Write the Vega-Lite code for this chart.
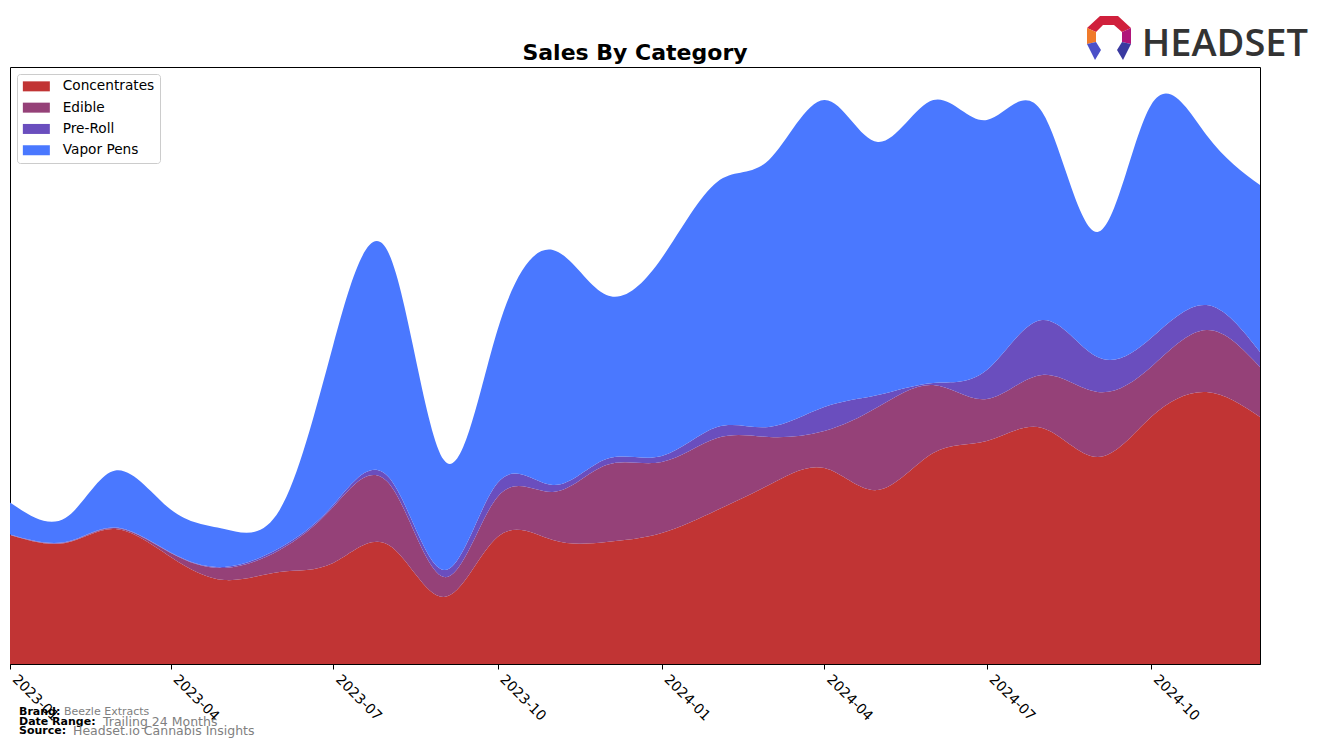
{
  "$schema": "https://vega.github.io/schema/vega-lite/v6.json",
  "width": 1250,
  "height": 597,
  "autosize": {"type": "none"},
  "padding": {"left": 10, "top": 67, "right": 64, "bottom": 84},
  "background": "white",
  "config": {
    "font": "DejaVu Sans",
    "view": {"stroke": "black", "strokeWidth": 1}
  },
  "title": {
    "text": "Sales By Category",
    "fontSize": 22,
    "fontWeight": "bold",
    "color": "black",
    "anchor": "middle",
    "offset": 8,
    "dy": 57,
    "font": "DejaVu Sans"
  },
  "layer": [
    {
      "data": {
        "values": [
          {"month": "2023-01-01", "category": "Concentrates", "sales": 129},
          {"month": "2023-02-01", "category": "Concentrates", "sales": 121},
          {"month": "2023-03-01", "category": "Concentrates", "sales": 135},
          {"month": "2023-04-01", "category": "Concentrates", "sales": 107},
          {"month": "2023-05-01", "category": "Concentrates", "sales": 84},
          {"month": "2023-06-01", "category": "Concentrates", "sales": 92},
          {"month": "2023-07-01", "category": "Concentrates", "sales": 101},
          {"month": "2023-08-01", "category": "Concentrates", "sales": 119},
          {"month": "2023-09-01", "category": "Concentrates", "sales": 67},
          {"month": "2023-10-01", "category": "Concentrates", "sales": 127},
          {"month": "2023-11-01", "category": "Concentrates", "sales": 124},
          {"month": "2023-12-01", "category": "Concentrates", "sales": 122},
          {"month": "2024-01-01", "category": "Concentrates", "sales": 131},
          {"month": "2024-02-01", "category": "Concentrates", "sales": 154},
          {"month": "2024-03-01", "category": "Concentrates", "sales": 179},
          {"month": "2024-04-01", "category": "Concentrates", "sales": 196},
          {"month": "2024-05-01", "category": "Concentrates", "sales": 174},
          {"month": "2024-06-01", "category": "Concentrates", "sales": 211},
          {"month": "2024-07-01", "category": "Concentrates", "sales": 223},
          {"month": "2024-08-01", "category": "Concentrates", "sales": 236},
          {"month": "2024-09-01", "category": "Concentrates", "sales": 207},
          {"month": "2024-10-01", "category": "Concentrates", "sales": 247},
          {"month": "2024-11-01", "category": "Concentrates", "sales": 272},
          {"month": "2024-12-01", "category": "Concentrates", "sales": 247},

          {"month": "2023-01-01", "category": "Edible", "sales": 0.3},
          {"month": "2023-02-01", "category": "Edible", "sales": 0.5},
          {"month": "2023-03-01", "category": "Edible", "sales": 1},
          {"month": "2023-04-01", "category": "Edible", "sales": 4},
          {"month": "2023-05-01", "category": "Edible", "sales": 12},
          {"month": "2023-06-01", "category": "Edible", "sales": 22},
          {"month": "2023-07-01", "category": "Edible", "sales": 56},
          {"month": "2023-08-01", "category": "Edible", "sales": 62},
          {"month": "2023-09-01", "category": "Edible", "sales": 20},
          {"month": "2023-10-01", "category": "Edible", "sales": 40},
          {"month": "2023-11-01", "category": "Edible", "sales": 48},
          {"month": "2023-12-01", "category": "Edible", "sales": 77},
          {"month": "2024-01-01", "category": "Edible", "sales": 71},
          {"month": "2024-02-01", "category": "Edible", "sales": 72},
          {"month": "2024-03-01", "category": "Edible", "sales": 48},
          {"month": "2024-04-01", "category": "Edible", "sales": 37},
          {"month": "2024-05-01", "category": "Edible", "sales": 83},
          {"month": "2024-06-01", "category": "Edible", "sales": 68},
          {"month": "2024-07-01", "category": "Edible", "sales": 42},
          {"month": "2024-08-01", "category": "Edible", "sales": 53},
          {"month": "2024-09-01", "category": "Edible", "sales": 65},
          {"month": "2024-10-01", "category": "Edible", "sales": 50},
          {"month": "2024-11-01", "category": "Edible", "sales": 62},
          {"month": "2024-12-01", "category": "Edible", "sales": 50},

          {"month": "2023-01-01", "category": "Pre-Roll", "sales": 0.2},
          {"month": "2023-02-01", "category": "Pre-Roll", "sales": 0.5},
          {"month": "2023-03-01", "category": "Pre-Roll", "sales": 0.5},
          {"month": "2023-04-01", "category": "Pre-Roll", "sales": 0.5},
          {"month": "2023-05-01", "category": "Pre-Roll", "sales": 1},
          {"month": "2023-06-01", "category": "Pre-Roll", "sales": 2},
          {"month": "2023-07-01", "category": "Pre-Roll", "sales": 2},
          {"month": "2023-08-01", "category": "Pre-Roll", "sales": 6},
          {"month": "2023-09-01", "category": "Pre-Roll", "sales": 7},
          {"month": "2023-10-01", "category": "Pre-Roll", "sales": 14},
          {"month": "2023-11-01", "category": "Pre-Roll", "sales": 7},
          {"month": "2023-12-01", "category": "Pre-Roll", "sales": 6},
          {"month": "2024-01-01", "category": "Pre-Roll", "sales": 6},
          {"month": "2024-02-01", "category": "Pre-Roll", "sales": 11},
          {"month": "2024-03-01", "category": "Pre-Roll", "sales": 10},
          {"month": "2024-04-01", "category": "Pre-Roll", "sales": 24},
          {"month": "2024-05-01", "category": "Pre-Roll", "sales": 12},
          {"month": "2024-06-01", "category": "Pre-Roll", "sales": 2},
          {"month": "2024-07-01", "category": "Pre-Roll", "sales": 29},
          {"month": "2024-08-01", "category": "Pre-Roll", "sales": 55},
          {"month": "2024-09-01", "category": "Pre-Roll", "sales": 35},
          {"month": "2024-10-01", "category": "Pre-Roll", "sales": 29},
          {"month": "2024-11-01", "category": "Pre-Roll", "sales": 25},
          {"month": "2024-12-01", "category": "Pre-Roll", "sales": 15},

          {"month": "2023-01-01", "category": "Vapor Pens", "sales": 32},
          {"month": "2023-02-01", "category": "Vapor Pens", "sales": 24},
          {"month": "2023-03-01", "category": "Vapor Pens", "sales": 57},
          {"month": "2023-04-01", "category": "Vapor Pens", "sales": 43},
          {"month": "2023-05-01", "category": "Vapor Pens", "sales": 38},
          {"month": "2023-06-01", "category": "Vapor Pens", "sales": 38},
          {"month": "2023-07-01", "category": "Vapor Pens", "sales": 160},
          {"month": "2023-08-01", "category": "Vapor Pens", "sales": 224},
          {"month": "2023-09-01", "category": "Vapor Pens", "sales": 110},
          {"month": "2023-10-01", "category": "Vapor Pens", "sales": 153},
          {"month": "2023-11-01", "category": "Vapor Pens", "sales": 235},
          {"month": "2023-12-01", "category": "Vapor Pens", "sales": 164},
          {"month": "2024-01-01", "category": "Vapor Pens", "sales": 198},
          {"month": "2024-02-01", "category": "Vapor Pens", "sales": 245},
          {"month": "2024-03-01", "category": "Vapor Pens", "sales": 267},
          {"month": "2024-04-01", "category": "Vapor Pens", "sales": 307},
          {"month": "2024-05-01", "category": "Vapor Pens", "sales": 253},
          {"month": "2024-06-01", "category": "Vapor Pens", "sales": 283},
          {"month": "2024-07-01", "category": "Vapor Pens", "sales": 250},
          {"month": "2024-08-01", "category": "Vapor Pens", "sales": 208},
          {"month": "2024-09-01", "category": "Vapor Pens", "sales": 125},
          {"month": "2024-10-01", "category": "Vapor Pens", "sales": 233},
          {"month": "2024-11-01", "category": "Vapor Pens", "sales": 170},
          {"month": "2024-12-01", "category": "Vapor Pens", "sales": 167}
        ]
      },
      "mark": {"type": "area", "interpolate": "natural"},
      "encoding": {
        "x": {
          "field": "month",
          "type": "temporal",
          "scale": {
            "type": "utc",
            "domain": [
              {"year": 2023, "month": 1, "date": 1, "utc": true},
              {"year": 2024, "month": 12, "date": 1, "utc": true}
            ]
          },
          "axis": {
            "values": [
              {"year": 2023, "month": 1, "date": 1, "utc": true},
              {"year": 2023, "month": 4, "date": 1, "utc": true},
              {"year": 2023, "month": 7, "date": 1, "utc": true},
              {"year": 2023, "month": 10, "date": 1, "utc": true},
              {"year": 2024, "month": 1, "date": 1, "utc": true},
              {"year": 2024, "month": 4, "date": 1, "utc": true},
              {"year": 2024, "month": 7, "date": 1, "utc": true},
              {"year": 2024, "month": 10, "date": 1, "utc": true}
            ],
            "format": "%Y-%m",
            "labelAngle": 45,
            "labelAlign": "left",
            "labelBaseline": "top",
            "labelFontSize": 14,
            "labelFont": "DejaVu Sans",
            "labelColor": "black",
            "labelPadding": 3,
            "labelOffset": 9,
            "labelOverlap": false,
            "tickColor": "black",
            "tickSize": 5,
            "domainColor": "black",
            "grid": false,
            "title": null
          }
        },
        "y": {
          "field": "sales",
          "type": "quantitative",
          "stack": "zero",
          "scale": {"domain": [0, 597], "nice": false},
          "axis": null
        },
        "order": {"field": "category", "sort": "ascending"},
        "color": {
          "field": "category",
          "type": "nominal",
          "scale": {
            "domain": ["Concentrates", "Edible", "Pre-Roll", "Vapor Pens"],
            "range": ["#C13434", "#954178", "#6A4EBE", "#4A78FF"]
          },
          "legend": {
            "title": null,
            "orient": "top-left",
            "offset": 7,
            "padding": 5.5,
            "strokeColor": "#cccccc",
            "fillColor": "white",
            "cornerRadius": 3,
            "symbolType": "M-2.7,-1H2.7V1H-2.7Z",
            "symbolSize": 100,
            "symbolStrokeWidth": 0,
            "symbolOpacity": 1,
            "symbolOffset": 7,
            "labelOffset": 19.5,
            "labelFontSize": 13.7,
            "labelFont": "DejaVu Sans",
            "labelColor": "black",
            "rowPadding": 6.3,
            "labelLimit": 300
          }
        }
      }
    },
    {
      "data": {"values": [{"t": "Brand:"}]},
      "mark": {"type": "text", "fontWeight": "bold", "fontSize": 11, "font": "DejaVu Sans", "color": "black", "align": "left", "baseline": "middle"},
      "encoding": {"text": {"field": "t"}, "x": {"value": 9}, "y": {"value": 645}}
    },
    {
      "data": {"values": [{"t": "Date Range:"}]},
      "mark": {"type": "text", "fontWeight": "bold", "fontSize": 11, "font": "DejaVu Sans", "color": "black", "align": "left", "baseline": "middle"},
      "encoding": {"text": {"field": "t"}, "x": {"value": 9}, "y": {"value": 655}}
    },
    {
      "data": {"values": [{"t": "Source:"}]},
      "mark": {"type": "text", "fontWeight": "bold", "fontSize": 11, "font": "DejaVu Sans", "color": "black", "align": "left", "baseline": "middle"},
      "encoding": {"text": {"field": "t"}, "x": {"value": 9}, "y": {"value": 664}}
    },
    {
      "data": {"values": [{"t": "Beezle Extracts"}]},
      "mark": {"type": "text", "fontSize": 11, "font": "DejaVu Sans", "color": "#808080", "align": "left", "baseline": "middle"},
      "encoding": {"text": {"field": "t"}, "x": {"value": 54}, "y": {"value": 645}}
    },
    {
      "data": {"values": [{"t": "Trailing 24 Months"}]},
      "mark": {"type": "text", "fontSize": 12.5, "font": "DejaVu Sans", "color": "#808080", "align": "left", "baseline": "middle"},
      "encoding": {"text": {"field": "t"}, "x": {"value": 93}, "y": {"value": 655}}
    },
    {
      "data": {"values": [{"t": "Headset.io Cannabis Insights"}]},
      "mark": {"type": "text", "fontSize": 12.5, "font": "DejaVu Sans", "color": "#808080", "align": "left", "baseline": "middle"},
      "encoding": {"text": {"field": "t"}, "x": {"value": 63}, "y": {"value": 664}}
    },
    {
      "data": {"values": [{"t": "HEADSET"}]},
      "mark": {"type": "text", "fontSize": 38, "font": "Open Sans", "fontWeight": 600, "color": "#333333", "align": "right", "baseline": "alphabetic"},
      "encoding": {"text": {"field": "t"}, "x": {"value": 1298}, "y": {"value": -11}}
    },
    {
      "data": {"values": [
        {"part": "top", "c": "#D0203C"},
        {"part": "left", "c": "#F07A2A"},
        {"part": "right", "c": "#B0157A"},
        {"part": "legl", "c": "#4B50C8"},
        {"part": "legr", "c": "#3A3AA0"}
      ]},
      "mark": {"type": "point", "filled": true, "opacity": 1, "size": 4, "strokeWidth": 0},
      "encoding": {
        "x": {"value": 1099},
        "y": {"value": -29},
        "color": {"field": "c", "type": "nominal", "scale": null, "legend": null},
        "shape": {
          "field": "part",
          "type": "nominal",
          "legend": null,
          "scale": {
            "domain": ["top", "left", "right", "legl", "legr"],
            "range": [
              "M-22,-10L-9,-22L9,-22L22,-10L13,-6L5,-13L-6,-13L-13,-6Z",
              "M-22,-10L-13,-6L-13,4L-22,6Z",
              "M22,-10L13,-6L13,4L22,6Z",
              "M-22,6L-13,4L-8,12L-14,22Z",
              "M22,6L13,4L8,12L14,22Z"
            ]
          }
        }
      }
    }
  ]
}
